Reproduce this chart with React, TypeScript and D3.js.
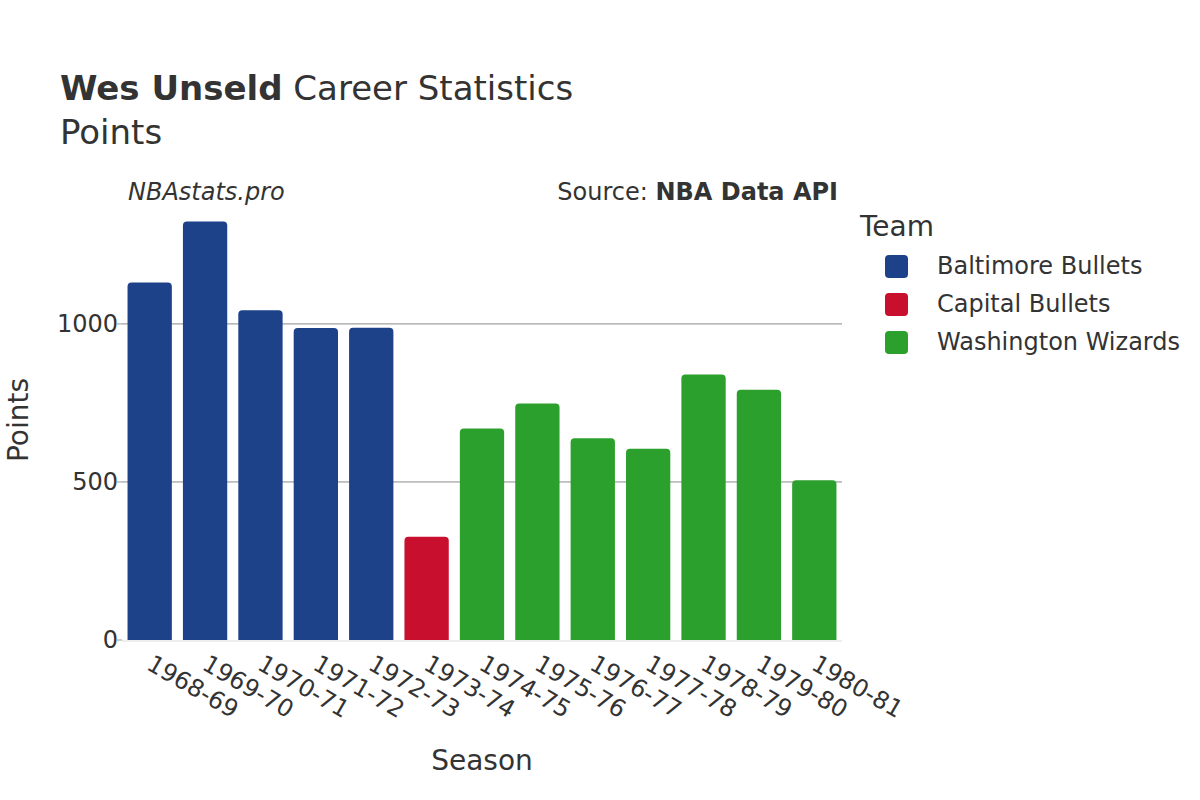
import React from "react";
import * as d3 from "d3";

const seasons = ["1968-69","1969-70","1970-71","1971-72","1972-73","1973-74","1974-75","1975-76","1976-77","1977-78","1978-79","1979-80","1980-81"];
const teams = ["Baltimore Bullets","Baltimore Bullets","Baltimore Bullets","Baltimore Bullets","Baltimore Bullets","Capital Bullets","Washington Wizards","Washington Wizards","Washington Wizards","Washington Wizards","Washington Wizards","Washington Wizards","Washington Wizards"];
const points = [1131, 1324, 1043, 987, 988, 327, 669, 748, 638, 605, 840, 792, 505];
const legendTeams = ["Baltimore Bullets","Capital Bullets","Washington Wizards"];
const teamColors = ["#1d428a","#c8102e","#2ca02c"];
const yTicks = [0, 500, 1000];

const FONT = "'DejaVu Sans', Verdana, sans-serif";

export default function App() {
  const left = 122, right = 842, top = 200, bottom = 640;
  const x = d3.scaleBand().domain(seasons).range([left, right]).paddingInner(0.2).paddingOuter(0.1);
  const y = d3.scaleLinear().domain([0, 1392]).range([bottom, top]);
  const color = d3.scaleOrdinal<string, string>().domain(legendTeams).range(teamColors);
  const r = 4;
  const barPath = (x0: number, w: number, yTop: number, yBot: number) => {
    const rr = Math.min(r, (yBot - yTop) / 2, w / 2);
    return `M${x0},${yBot}V${yTop + rr}Q${x0},${yTop} ${x0 + rr},${yTop}H${x0 + w - rr}Q${x0 + w},${yTop} ${x0 + w},${yTop + rr}V${yBot}Z`;
  };
  return (
    <svg width={1200} height={800} style={{ display: "block", position: "absolute", left: 0, top: 0, background: "#fff" }} fontFamily={FONT}>
      <rect width={1200} height={800} fill="#fff" />
      <text x={60} y={100} fontSize={34} fill="#333">
        <tspan fontWeight="bold">Wes Unseld</tspan>
        <tspan> Career Statistics</tspan>
      </text>
      <text x={60} y={144} fontSize={34} fill="#333">Points</text>
      <text x={128} y={200} fontSize={24} fontStyle="italic" fill="#333">NBAstats.pro</text>
      <text x={838} y={200} fontSize={24} textAnchor="end" fill="#333">
        <tspan>Source: </tspan>
        <tspan fontWeight="bold">NBA Data API</tspan>
      </text>
      {yTicks.filter(t => t > 0).map(t => (
        <line key={t} x1={left} x2={right} y1={y(t)} y2={y(t)} stroke="#8a8a8a" strokeWidth={1} />
      ))}
      {yTicks.map(t => (
        <g key={"t" + t}>
          <line x1={left - 5} x2={left} y1={y(t)} y2={y(t)} stroke="#999" strokeWidth={1} />
          <text x={left - 4} y={y(t)} dy="0.35em" fontSize={24} textAnchor="end" fill="#333">{t}</text>
        </g>
      ))}
      {seasons.map((s, i) => (
        <path key={s} d={barPath(x(s)!, x.bandwidth(), y(points[i]), y(0))} fill={color(teams[i])} />
      ))}
      <line x1={left} x2={right} y1={y(0) + 1} y2={y(0) + 1} stroke="#eee" strokeWidth={2} />
      {seasons.map(s => (
        <text key={"l" + s} transform={`translate(${x(s)! + x.bandwidth() / 2 + 4},${y(0) + 14}) rotate(30)`} fontSize={24} fill="#333" dy="0.7em">{s}</text>
      ))}
      <text x={482} y={770} fontSize={28} textAnchor="middle" fill="#333">Season</text>
      <text transform={`translate(18,420) rotate(-90)`} fontSize={28} textAnchor="middle" dy="0.35em" fill="#333">Points</text>
      <text x={860} y={236} fontSize={28} fill="#333">Team</text>
      {legendTeams.map((t, i) => (
        <g key={t}>
          <rect x={885} y={255 + i * 38} width={23} height={23} rx={4} fill={teamColors[i]} />
          <text x={937} y={266 + i * 38} dy="0.35em" fontSize={24} fill="#333">{t}</text>
        </g>
      ))}
    </svg>
  );
}
